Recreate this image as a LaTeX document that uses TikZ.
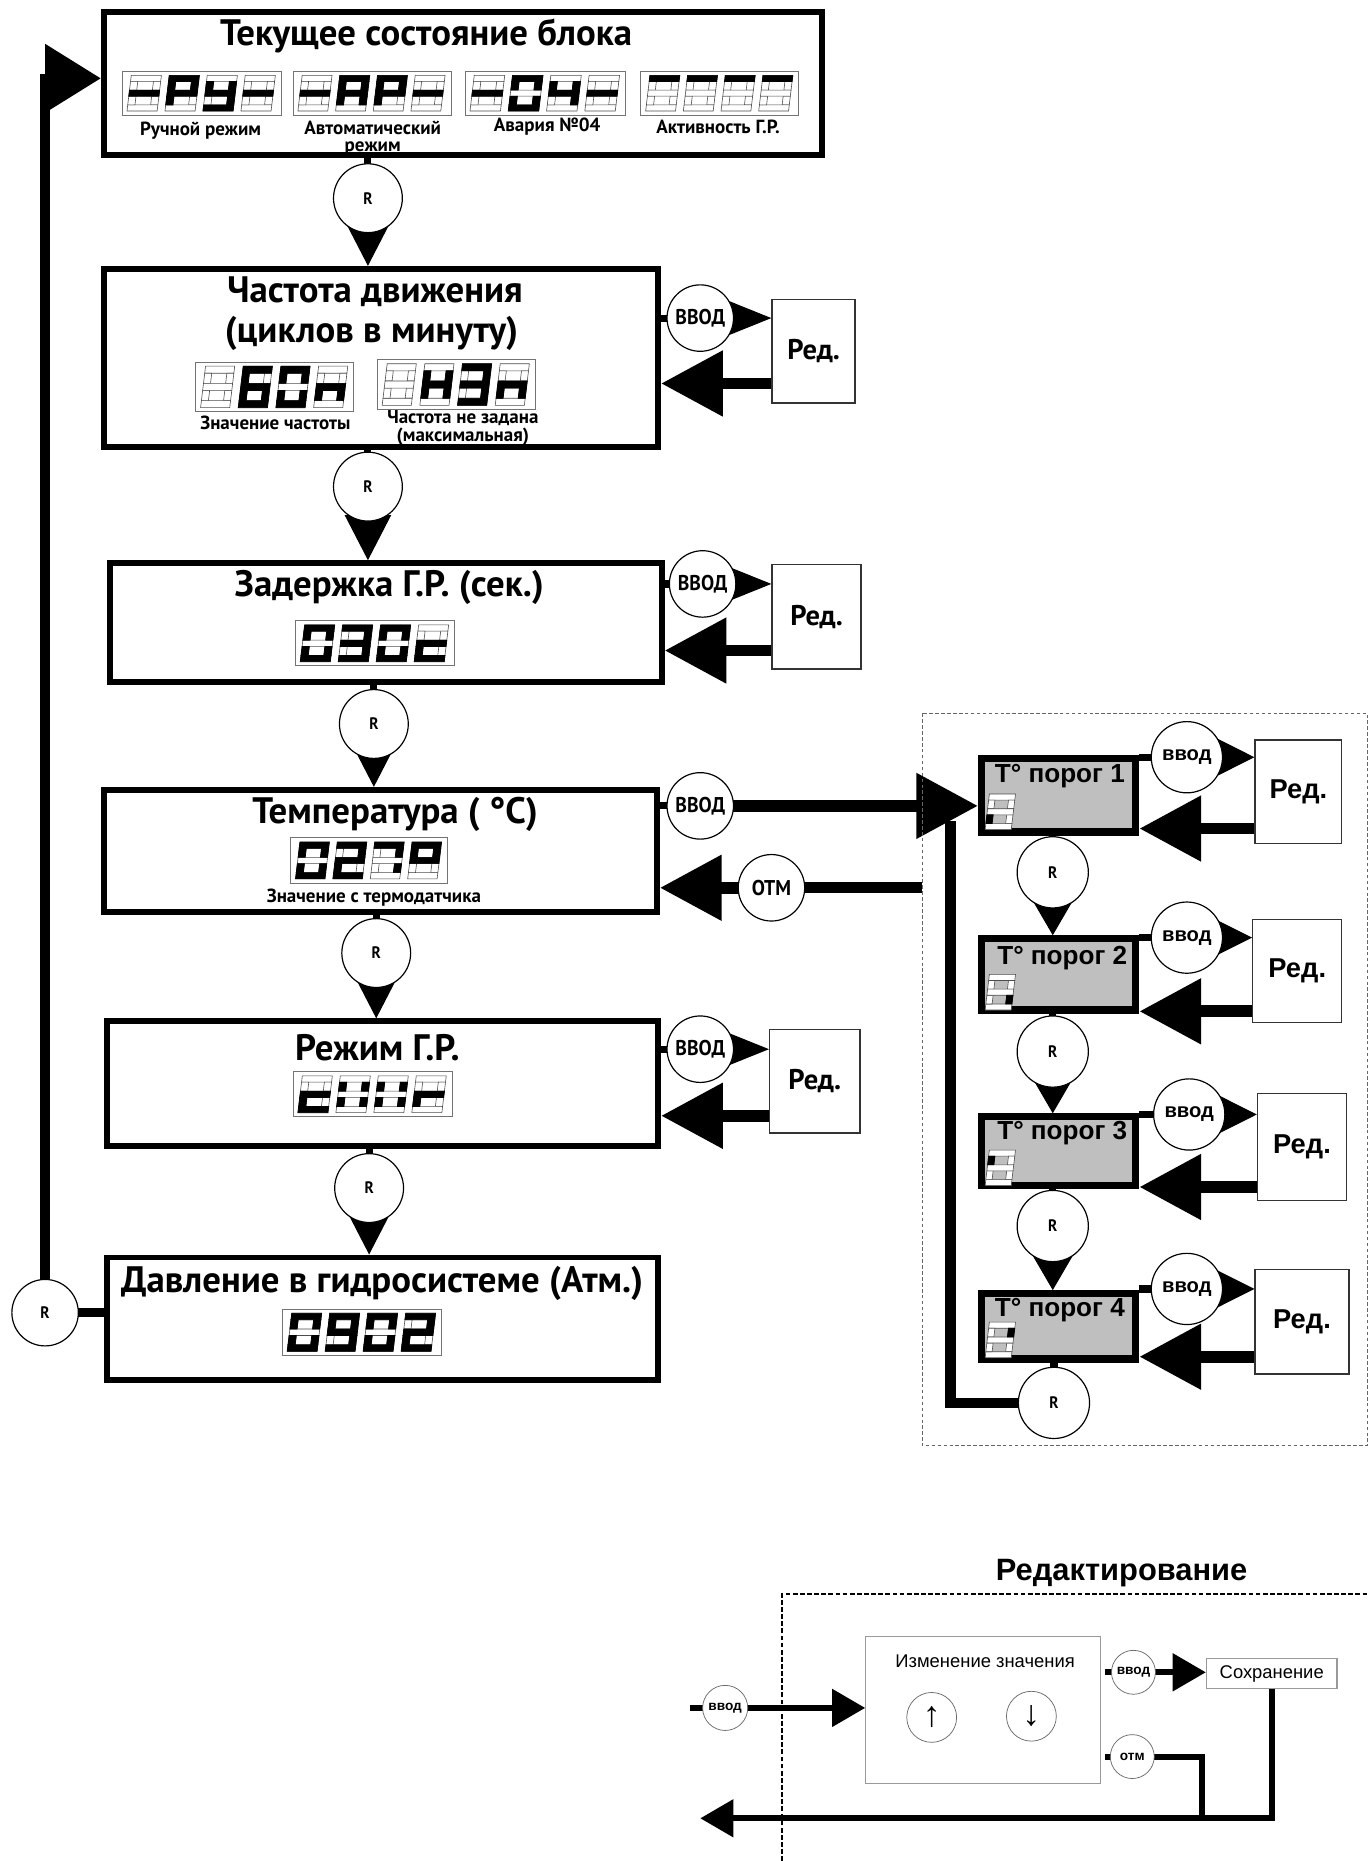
\documentclass[tikz,border=0pt]{standalone}
\usepackage{fontspec}
\setmainfont{PT Sans}
\newfontfamily\cnd[FakeStretch=0.92]{PT Sans}
\newfontfamily\arl{Liberation Sans}
\usetikzlibrary{arrows.meta}
\pgfdeclarelayer{bg}
\pgfsetlayers{bg,main}
\newcommand\sgm[1]{%
\if#1a\path[sg] (0,1.66) rectangle (1,2);\fi
\if#1b\path[sg] (0.76,1.17) rectangle (1,1.66);\fi
\if#1c\path[sg] (0.76,0.34) rectangle (1,0.83);\fi
\if#1d\path[sg] (0,0) rectangle (1,0.34);\fi
\if#1e\path[sg] (0,0.34) rectangle (0.24,0.83);\fi
\if#1f\path[sg] (0,1.17) rectangle (0.24,1.66);\fi
\if#1g\path[sg] (0,0.83) rectangle (1,1.17);\fi
}
\newcommand\sdig[3]{%
\begin{scope}[shift={(#1,#2)},x=\digw,y=\digh,xslant=0.12]
\tikzset{sg/.style={draw=black!70,line width=0.5pt,fill=white}}
\foreach \sx in {a,b,c,d,e,f,g}{\sgm{\sx}}
\tikzset{sg/.style={draw=black,line width=0.6pt,fill=black}}
\foreach \sx in {#3}{\sgm{\sx}}
\end{scope}}
\newcommand\disp[8]{%
\draw[black!55,line width=0.8pt] (#1,#2) rectangle (#3,#4);
\pgfmathsetmacro\dsp{(#3-#1-6)/4}%
\pgfmathsetmacro\dhh{(#4-#2-7)/2}%
\pgfmathsetmacro\dww{\dsp-3-0.24*\dhh}%
\edef\digw{\dww pt}\edef\digh{\dhh pt}%
\pgfmathsetmacro\yy{#4-3.5}%
\pgfmathsetmacro\xa{#1+4}\sdig{\xa}{\yy}{#5}%
\pgfmathsetmacro\xa{#1+4+\dsp}\sdig{\xa}{\yy}{#6}%
\pgfmathsetmacro\xa{#1+4+2*\dsp}\sdig{\xa}{\yy}{#7}%
\pgfmathsetmacro\xa{#1+4+3*\dsp}\sdig{\xa}{\yy}{#8}%
}
\begin{document}
\begin{tikzpicture}[x=1pt,y=-1pt,
  mbox/.style={draw=black,line width=5pt,fill=white,inner sep=0},
  pbox/.style={draw=black,line width=6pt,fill=black!25,inner sep=0},
  rbox/.style={draw=black!80,line width=1.2pt,fill=white,inner sep=0,font=\bfseries\fontsize{24}{24}\selectfont},
  qbox/.style={draw=black!80,line width=1.2pt,fill=white,inner sep=0,font=\arl\bfseries\fontsize{23}{23}\selectfont},
  rc/.style={circle,draw=black,line width=1pt,fill=white,minimum size=58pt,inner sep=0,font=\cnd\bfseries\fontsize{14}{14}\selectfont},
  vc/.style={rc,minimum size=56pt,font=\cnd\bfseries\fontsize{18}{18}\selectfont},
  qc/.style={rc,minimum size=60pt,font=\arl\bfseries\fontsize{17}{17}\selectfont},
  sc/.style={circle,draw=black!60,line width=0.6pt,fill=white,minimum size=38pt,inner sep=0,font=\arl\bfseries\fontsize{11.5}{11.5}\selectfont},
  ttl/.style={font=\bfseries\fontsize{31}{31}\selectfont,inner sep=0},
  lbl/.style={font=\bfseries\fontsize{16}{16}\selectfont,inner sep=0},
  ptx/.style={font=\arl\bfseries\fontsize{22}{22}\selectfont,inner sep=0},
  ret/.style={line width=10pt,-{Triangle[length=52pt,width=53pt]}},
  dn/.style={line width=1pt,-{Triangle[length=38pt,width=39pt]}},
  dnq/.style={line width=1pt,-{Triangle[length=38pt,width=44pt]}},
  toed/.style={line width=1pt,-{Triangle[length=50pt,width=40pt]}},
  toeq/.style={line width=1pt,-{Triangle[length=40pt,width=40pt]}},
  stub/.style={line width=6pt},
  bln/.style={line width=5pt,-{Triangle[length=28pt,width=31pt]}},
]
\useasboundingbox (0,0) rectangle (1153,1568);
% ---------- main boxes
\node[mbox,minimum width=605pt,minimum height=120pt] (B1) at (390,70.5) {};
\node[mbox,minimum width=467pt,minimum height=150pt] (B2) at (321,301.5) {};
\node[mbox,minimum width=465pt,minimum height=100pt] (B3) at (325,524.5) {};
\node[mbox,minimum width=466pt,minimum height=103pt] (B4) at (320.5,717) {};
\node[mbox,minimum width=464pt,minimum height=105pt] (B5) at (322.5,913) {};
\node[mbox,minimum width=464pt,minimum height=103pt] (B6) at (322.5,1111) {};
% ---------- R circles
\node[rc] (R1) at (310,167) {R};
\node[rc] (R2) at (310,410) {R};
\node[rc] (R3) at (315,610) {R};
\node[rc] (R4) at (317,803) {R};
\node[rc] (R5) at (311,1001) {R};
\node[rc,minimum size=56pt] (R0) at (38,1106) {R};
% ---------- vvod circles
\node[vc] (V2) at (590,268) {ВВОД};
\node[vc] (V3) at (592,492) {ВВОД};
\node[vc] (V4) at (590,679) {ВВОД};
\node[vc] (V5) at (590,884) {ВВОД};
\node[vc] (OT) at (650,748) {ОТМ};
% ---------- Red boxes
\node[rbox,minimum width=70pt,minimum height=87pt] (E2) at (685.5,296) {Ред.};
\node[rbox,minimum width=75pt,minimum height=88pt] (E3) at (688,519.5) {Ред.};
\node[rbox,minimum width=76pt,minimum height=87pt] (E5) at (686.5,911) {Ред.};
% ---------- threshold region
\draw[black!60,line width=0.8pt,dash pattern=on 3pt off 2pt] (777,601) rectangle (1152,1218);
\node[pbox,minimum width=130pt,minimum height=62pt] (P1) at (892,670) {};
\node[pbox,minimum width=130pt,minimum height=60pt] (P2) at (892,821) {};
\node[pbox,minimum width=130pt,minimum height=58pt] (P3) at (892,970) {};
\node[pbox,minimum width=130pt,minimum height=55pt] (P4) at (892,1117.5) {};
\node[qc] (Q1) at (1000,638) {ввод};
\node[qc] (Q2) at (1000,790) {ввод};
\node[qc] (Q3) at (1002,939) {ввод};
\node[qc] (Q4) at (1000,1086) {ввод};
\node[qbox,minimum width=73pt,minimum height=87pt] (F1) at (1094,667) {Ред.};
\node[qbox,minimum width=75pt,minimum height=87pt] (F2) at (1093,818) {Ред.};
\node[qbox,minimum width=75pt,minimum height=90pt] (F3) at (1097,966.5) {Ред.};
\node[qbox,minimum width=79pt,minimum height=88pt] (F4) at (1097,1113.5) {Ред.};
\node[rc,minimum size=60pt] (S1) at (887,735) {R};
\node[rc,minimum size=60pt] (S2) at (887,886) {R};
\node[rc,minimum size=60pt] (S3) at (887,1033) {R};
\node[rc,minimum size=60pt] (S4) at (888,1182) {R};
\coordinate (VT) at (801,692);
\coordinate (OS) at (777,748);
\coordinate (LP) at (38,66);
% ---------- connectors
\begin{pgfonlayer}{bg}
\draw[line width=8pt,-{Triangle[length=47pt,width=56pt]}] (R0.center) -- (LP) -- (LP -| B1.west);
\draw[line width=8pt] (R0.center) -- (R0 -| B6.west);
\foreach \a/\r/\b in {B1/R1/B2,B2/R2/B3,B3/R3/B4,B4/R4/B5,B5/R5/B6}{
  \draw[stub] (\r |- \a.south) -- (\r.center);
  \draw[dn] (\r.center) -- (\r |- \b.north);
}
\foreach \v/\e/\b/\s in {V2/E2/B2/17,V3/E3/B3/16,V5/E5/B5/15}{
  \draw[stub] (\v -| \b.east) -- (\v.center);
  \draw[toed] (\v.center) -- (\v -| \e.west);
  \draw[ret] ([yshift=\s pt]\e.south west) -- ([yshift=\s pt]\e.south west -| \b.east);
}
\draw[stub] (V4 -| B4.east) -- (V4.center);
\draw[ret] (V4.center) -- (V4 -| P1.west);
\draw[line width=9pt] (S4.center) -| (VT);
\draw[line width=9pt] (OS) -- (OT.center);
\draw[ret] (OT.center) -- (OT -| B4.east);
\foreach \q/\f/\p/\s in {Q1/F1/P1/13,Q2/F2/P2/10,Q3/F3/P3/12,Q4/F4/P4/15}{
  \draw[stub] (\q -| \p.east) -- (\q.center);
  \draw[toeq] (\q.center) -- (\q -| \f.west);
  \draw[ret] ([yshift=\s pt]\f.south west) -- ([yshift=\s pt]\f.south west -| \p.east);
}
\foreach \a/\r/\b in {P1/S1/P2,P2/S2/P3,P3/S3/P4}{
  \draw[stub] (\r |- \a.south) -- (\r.center);
  \draw[dnq] (\r.center) -- (\r |- \b.north);
}
\draw[stub] (S4 |- P4.south) -- (S4.center);
\end{pgfonlayer}
% ---------- texts main
\node[ttl] (T1) at (359,30) {Текущее состояние блока};
\node[lbl] (L1) at (169,110) {Ручной режим};
\node[lbl] (L2) at (314,108) {Автоматический};
\node[lbl] (L2b) at (314,125) {режим};
\node[lbl] (L3) at (461,107) {Авария №04};
\node[lbl] (L4) at (605,107) {Активность Г.Р.};
\node[ttl] (T2) at (316,246) {Частота движения};
\node[ttl] (T2b) at (313,281) {(циклов в минуту)};
\node[lbl] (L5) at (232,356) {Значение частоты};
\node[lbl] (L6) at (390,352) {Частота не задана};
\node[lbl] (L6b) at (390,368) {(максимальная)};
\node[ttl] (T3) at (328,495) {Задержка Г.Р. (сек.)};
\node[ttl] (T4) at (333,686) {Температура ( °C)};
\node[lbl] (L7) at (315,756) {Значение с термодатчика};
\node[ttl] (T5) at (318,883) {Режим Г.Р.};
\node[ttl] (T6) at (322,1081) {Давление в гидросистеме (Атм.)};
\node[ptx] (U1) at (893,654) {T° порог 1};
\node[ptx] (U2) at (895,807) {T° порог 2};
\node[ptx] (U3) at (895,955) {T° порог 3};
\node[ptx] (U4) at (893,1104) {T° порог 4};
% ---------- displays
\disp{103}{60}{237}{97}{g}{a,b,e,f,g}{b,c,d,f,g}{g}
\disp{247}{60}{380}{97}{g}{a,b,c,e,f,g}{a,b,e,f,g}{g}
\disp{392}{60}{527}{97}{g}{a,b,c,d,e,f}{b,c,f,g}{g}
\disp{540}{60}{673}{97}{a}{a}{a}{a}
\disp{165}{305}{298}{347}{z}{a,c,d,e,f,g}{a,b,c,d,e,f}{c,e,g}
\disp{318}{303}{451}{345}{z}{b,c,e,f,g}{a,b,c,d,g}{c,e,g}
\disp{249}{523}{383}{561}{a,b,c,d,e,f}{a,b,c,d,g}{a,b,c,d,e,f}{d,e,g}
\disp{245}{706}{377}{744}{a,b,c,d,e,f}{a,b,d,e,g}{a,b,c}{a,b,f,g}
\disp{247}{903}{381}{941}{d,e,g}{b,c,e,f}{b,c,e,f}{e,g}
\disp{238}{1103}{372}{1142}{a,b,c,d,e,f}{a,b,c,d,f,g}{a,b,c,d,e,f}{a,b,d,e,g}
\def\digw{22pt}\def\digh{15pt}
\sdig{830}{699}{e}
\sdig{830}{851}{c}
\sdig{830}{999}{f}
\sdig{830}{1144}{b}
% ---------- editing section
\node[font=\arl\bfseries\fontsize{26}{26}\selectfont,inner sep=0] (TT) at (945,1325) {Редактирование};
\draw[line width=2pt,dash pattern=on 4pt off 2pt] (659,1568) -- (659,1343) -- (1153,1343);
\node[draw=black!40,line width=1pt,fill=white,minimum width=198pt,minimum height=124pt] (CH) at (828.5,1440.5) {};
\node[font=\arl\fontsize{15.5}{15.5}\selectfont,inner sep=0] (CHt) at (830,1400) {Изменение значения};
\node[sc,minimum size=42pt,font=\arl\fontsize{30}{30}\selectfont] (UP) at (785,1447) {↑};
\node[sc,minimum size=42pt,font=\arl\fontsize{30}{30}\selectfont] (DN) at (869,1446) {↓};
\node[draw=black!40,line width=1pt,fill=white,minimum width=110pt,minimum height=25pt,inner sep=0,font=\arl\fontsize{15.5}{15.5}\selectfont] (SV) at (1071.5,1410) {Сохранение};
\node[sc] (W1) at (611,1439) {ввод};
\node[sc,minimum size=37pt] (W2) at (955,1409) {ввод};
\node[sc,minimum size=37pt] (W3) at (954,1480) {отм};
\coordinate (W1s) at (581,1439);
\coordinate (W2s) at (931,1409);
\coordinate (W3s) at (931,1480);
\coordinate (J1) at (1013,1532);
\coordinate (AE) at (590,1532);
\begin{pgfonlayer}{bg}
\draw[bln] (W1s) -- (W1 -| CH.west);
\draw[bln] (W2s) -- (W2 -| SV.west);
\draw[line width=5pt] (W3s) -- (W3.center) -| (J1);
\draw[bln] (SV.south) |- (AE);
\end{pgfonlayer}
\end{tikzpicture}
\end{document}
